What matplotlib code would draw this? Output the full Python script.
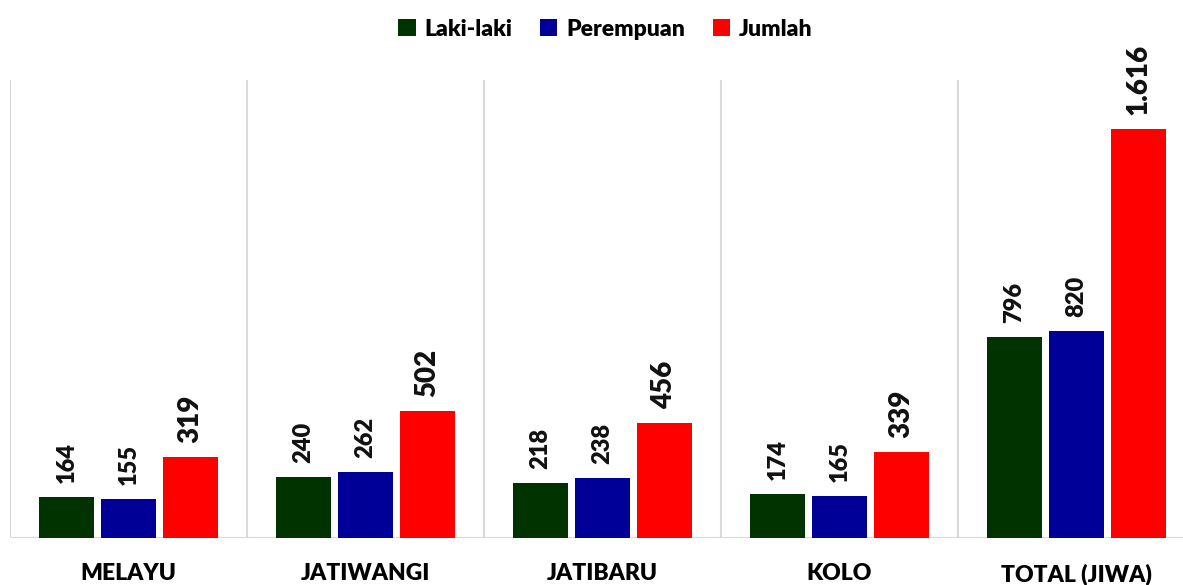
import numpy as np
import matplotlib
matplotlib.use("Agg")
import matplotlib.pyplot as plt

plt.rcParams['font.family'] = ['Lato', 'DejaVu Sans']
plt.rcParams['font.weight'] = 'heavy'

desa = ['MELAYU', 'JATIWANGI', 'JATIBARU', 'KOLO', 'TOTAL (JIWA)']
laki = [164, 240, 218, 174, 796]
perempuan = [155, 262, 238, 165, 820]
jumlah = [319, 502, 456, 339, 1616]

series = [('Laki-laki', laki, '#003300'),
          ('Perempuan', perempuan, '#000099'),
          ('Jumlah', jumlah, '#ff0000')]


def fmt(v):
    return f'{v:,}'.replace(',', '.')


fig = plt.figure(figsize=(11.83, 5.85), dpi=100)
ax = fig.add_axes([10 / 1183, 47 / 585, 1185 / 1183, 458 / 585])

x = np.arange(len(desa))
w = 0.236
step = 0.2616
for i, (name, vals, col) in enumerate(series):
    pos = x + (i - 1) * step
    ax.bar(pos, vals, width=w, color=col, label=name, zorder=3)
    size = 20 if name == 'Jumlah' else 17
    for px, v in zip(pos, vals):
        ax.annotate(fmt(v), (px, v), xytext=(0, 10), textcoords='offset points',
                    rotation=90, ha='center', va='bottom',
                    fontsize=size, fontweight='heavy', color='#111111')

ax.set_xlim(-0.5, len(desa) - 0.5)
ax.set_ylim(0, 1810)

# separators between villages
for b in np.arange(-0.5, len(desa), 1.0):
    ax.axvline(b, color='#d9d9d9', lw=1.5, zorder=1)
ax.axhline(0, color='#d9d9d9', lw=1.5, zorder=2)

for s in ax.spines.values():
    s.set_visible(False)
ax.set_yticks([])
ax.set_xticks(x)
ax.set_xticklabels(desa, fontsize=16.5, fontweight='heavy')
ax.tick_params(axis='x', length=0, pad=18)

leg = fig.legend(loc='upper center', bbox_to_anchor=(0.512, 1.003), ncol=3,
                 frameon=False, prop={'size': 16.5, 'weight': 'heavy'},
                 handlelength=0.75, handleheight=0.75, handletextpad=0.4,
                 columnspacing=1.2)

fig.savefig('out.png', dpi=100)
